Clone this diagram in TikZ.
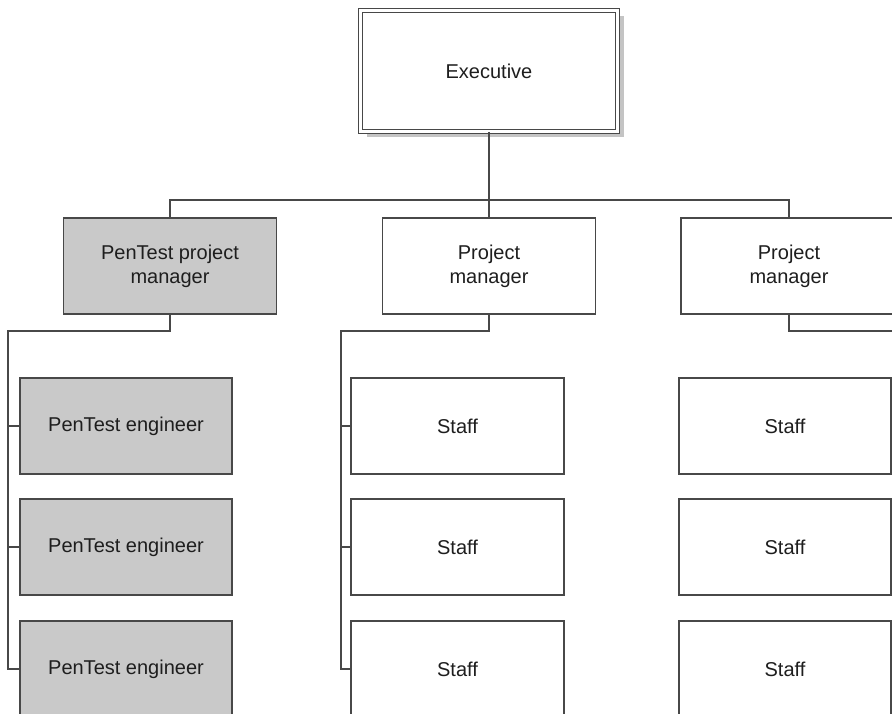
\documentclass[tikz,border=0pt]{standalone}
\usepackage{fontspec}
\setmainfont{Liberation Sans}
\usetikzlibrary{shadows}
\definecolor{linegray}{HTML}{484848}
\definecolor{boxgray}{HTML}{C9C9C9}
\definecolor{shadowgray}{HTML}{C4C4C4}
\definecolor{textgray}{HTML}{1E1E1E}
\begin{document}
\begin{tikzpicture}[x=1pt,y=-1pt,
  every node/.style={font=\fontsize{20}{24}\selectfont, text=textgray, align=center},
  orgbox/.style={draw=linegray, line width=1.2pt, fill=white, rectangle, minimum height=96pt, inner sep=0pt},
  graybox/.style={orgbox, fill=boxgray},
  execbox/.style={draw=linegray, line width=0.9pt, double=white, double distance=2.6pt, rectangle,
     minimum width=257pt, minimum height=121pt, inner sep=0pt,
     drop shadow={shadow xshift=6pt, shadow yshift=-6pt, fill=shadowgray, opacity=1}},
  conn/.style={draw=linegray, line width=1.2pt}]
\useasboundingbox (0,0) rectangle (892,714);
\clip (0,0) rectangle (892,714);
\fill[white] (0,0) rectangle (892,714);

\node[execbox, fill=white] (exec) at (489,71) {Executive};

\node[graybox, minimum width=213pt] (pm1) at (170,266) {PenTest project\\manager};
\node[orgbox, minimum width=213pt] (pm2) at (489,266) {Project\\manager};
\node[orgbox, minimum width=216pt] (pm3) at (789,266) {Project\\manager};

\node[graybox, minimum width=212pt] (e1) at (126,426) {PenTest engineer};
\node[graybox, minimum width=212pt] (e2) at (126,547) {PenTest engineer};
\node[graybox, minimum width=212pt] (e3) at (126,669) {PenTest engineer};

\node[orgbox, minimum width=213pt] (s1) at (457.5,426) {Staff};
\node[orgbox, minimum width=213pt] (s2) at (457.5,547) {Staff};
\node[orgbox, minimum width=213pt] (s3) at (457.5,669) {Staff};

\node[orgbox, minimum width=212pt] (t1) at (785,426) {Staff};
\node[orgbox, minimum width=212pt] (t2) at (785,547) {Staff};
\node[orgbox, minimum width=212pt] (t3) at (785,669) {Staff};

\coordinate (bus) at (489,200);
\coordinate (la) at (8,331);
\coordinate (ma) at (341,331);
\coordinate (ra) at (900,331);

\draw[conn] (exec.south) -- (pm2.north);
\draw[conn] (pm1.north) |- (bus) -| (pm3.north);

\draw[conn] (pm1.south) |- (la) |- (e3.west);
\draw[conn] (la |- e1.west) -- (e1.west);
\draw[conn] (la |- e2.west) -- (e2.west);

\draw[conn] (pm2.south) |- (ma) |- (s3.west);
\draw[conn] (ma |- s1.west) -- (s1.west);
\draw[conn] (ma |- s2.west) -- (s2.west);

\draw[conn] (pm3.south) |- (ra);
\end{tikzpicture}
\end{document}
